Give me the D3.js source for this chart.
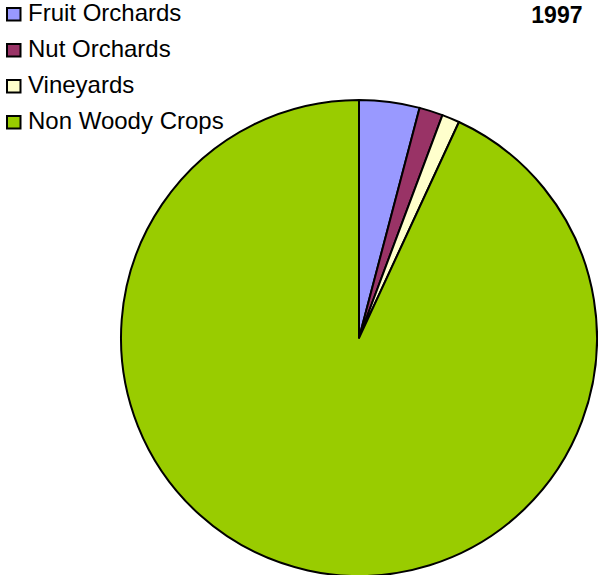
<!DOCTYPE html>
<html>
<head>
<meta charset="utf-8">
<script src="https://cdn.jsdelivr.net/npm/d3@7"></script>
<style>
  html, body { margin: 0; padding: 0; background: #fff; }
  svg { display: block; font-family: Arial, "Liberation Sans", sans-serif; }
</style>
</head>
<body>
<svg id="chart" width="598" height="575"></svg>
<script>
// Land use shares, 1997 (percent)
const categories = ["Fruit Orchards", "Nut Orchards", "Vineyards", "Non Woody Crops"];
const values = [4.1, 1.6, 1.2, 93.1];
const colors = ["#9999FF", "#993366", "#FFFFCC", "#99CC00"];
const title = "1997";

const data = categories.map((c, i) => ({ name: c, value: values[i], color: colors[i] }));

const svg = d3.select("#chart");
const cx = 359, cy = 338, radius = 238;

const pie = d3.pie().sort(null).value(d => d.value);
const arc = d3.arc().innerRadius(0).outerRadius(radius);

svg.append("g")
  .attr("transform", `translate(${cx},${cy})`)
  .selectAll("path")
  .data(pie(data))
  .join("path")
  .attr("d", arc)
  .attr("fill", d => d.data.color)
  .attr("stroke", "#000")
  .attr("stroke-width", 2)
  .attr("stroke-linejoin", "round");

// Legend: one row per category, baselines 36px apart
const rowY = d3.scalePoint().domain(categories).range([20.5, 128.5]);
const rows = svg.append("g").selectAll("g")
  .data(data)
  .join("g")
  .attr("transform", d => `translate(0,${rowY(d.name)})`);
rows.append("rect")
  .attr("x", 7).attr("y", -12.5)
  .attr("width", 13.5).attr("height", 12.5)
  .attr("fill", d => d.color)
  .attr("stroke", "#000")
  .attr("stroke-width", 2);
rows.append("text")
  .attr("x", 28).attr("y", 0)
  .attr("font-size", 24)
  .attr("fill", "#000")
  .text(d => d.name);

svg.append("text")
  .attr("x", 582.5).attr("y", 23)
  .attr("text-anchor", "end")
  .attr("font-size", 23)
  .attr("font-weight", "bold")
  .text(title);
</script>
</body>
</html>
